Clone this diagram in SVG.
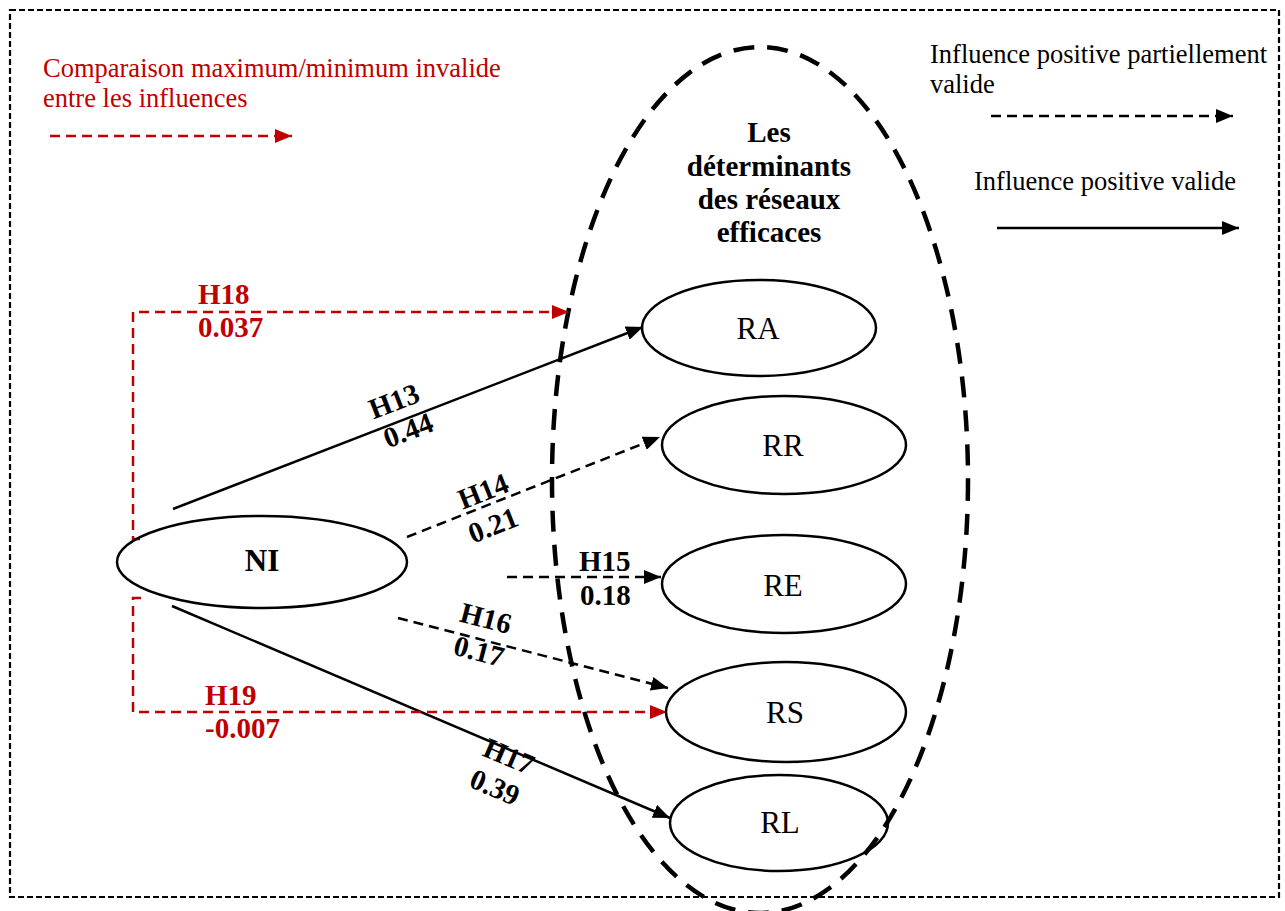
<svg xmlns="http://www.w3.org/2000/svg" width="1285" height="911" viewBox="0 0 1285 911">
<style>
text{font-family:"Liberation Serif","Times New Roman",serif;}
.lbl{font-size:29px;font-weight:bold;fill:#000;}
.red{fill:#C00000;}
.node{fill:none;stroke:#000;stroke-width:2.5;}
.ntxt{font-size:31px;text-anchor:middle;}
.leg{font-size:26.5px;}
.solid{stroke:#000;stroke-width:2.5;fill:none;}
.dash{stroke:#000;stroke-width:2.5;fill:none;stroke-dasharray:10 6;}
.rdash{stroke:#C00000;stroke-width:2.5;fill:none;stroke-dasharray:10 6;}
</style>
<defs>
<marker id="ah" markerUnits="userSpaceOnUse" markerWidth="18" markerHeight="14" refX="17" refY="7" orient="auto"><path d="M0,0 L17,7 L0,14 z" fill="#000"/></marker>
<marker id="ahr" markerUnits="userSpaceOnUse" markerWidth="18" markerHeight="14" refX="17" refY="7" orient="auto"><path d="M0,0 L17,7 L0,14 z" fill="#C00000"/></marker>
</defs>
<rect width="1285" height="911" fill="#fff"/>
<rect id="frame" x="10" y="10" width="1269" height="887" fill="none" stroke="#000" stroke-width="2.2" stroke-dasharray="6 3"/>
<g id="group-ellipse">
<ellipse cx="760" cy="480" rx="208" ry="433" fill="none" stroke="#000" stroke-width="4.5" stroke-dasharray="21 13"/>
<text class="lbl" text-anchor="middle"><tspan x="769" y="142">Les</tspan><tspan x="769" y="176">déterminants</tspan><tspan x="769" y="209">des réseaux</tspan><tspan x="769" y="242">efficaces</tspan></text>
</g>
<g id="legend">
<text class="leg red" x="43" y="77">Comparaison maximum/minimum invalide</text>
<text class="leg red" x="43" y="107">entre les influences</text>
<line class="rdash" x1="50" y1="136" x2="292" y2="136" marker-end="url(#ahr)"/>
<text class="leg" x="930" y="63">Influence positive partiellement</text>
<text class="leg" x="930" y="93">valide</text>
<line class="dash" x1="991" y1="116" x2="1233" y2="116" marker-end="url(#ah)"/>
<text class="leg" x="974" y="190">Influence positive valide</text>
<line class="solid" x1="997" y1="228" x2="1239" y2="228" marker-end="url(#ah)"/>
</g>
<g id="connectors">
<line class="solid" x1="173" y1="509" x2="643" y2="327" marker-end="url(#ah)"/>
<line class="dash" x1="407" y1="537" x2="660" y2="437" marker-end="url(#ah)"/>
<line class="dash" x1="507" y1="577" x2="661" y2="577" marker-end="url(#ah)"/>
<line class="dash" x1="398" y1="618" x2="668" y2="688" marker-end="url(#ah)"/>
<line class="solid" x1="172" y1="606" x2="670" y2="818" marker-end="url(#ah)"/>
<path class="rdash" d="M140,539 H133 V312 H569" marker-end="url(#ahr)"/>
<path class="rdash" d="M141,598 H133 V712 H667" marker-end="url(#ahr)"/>
<text class="lbl red" x="198" y="304">H18</text>
<text class="lbl red" x="198" y="337">0.037</text>
<text class="lbl red" x="205" y="705">H19</text>
<text class="lbl red" x="205" y="738">-0.007</text>
<text class="lbl" text-anchor="middle" x="394" y="411" transform="rotate(-21 394 401)">H13</text>
<text class="lbl" text-anchor="middle" x="408" y="440" transform="rotate(-21 408 430)">0.44</text>
<text class="lbl" text-anchor="middle" x="483" y="501" transform="rotate(-21.6 483 491)">H14</text>
<text class="lbl" text-anchor="middle" x="493" y="535" transform="rotate(-21.6 493 525)">0.21</text>
<text class="lbl" x="579" y="571">H15</text>
<text class="lbl" x="580" y="605">0.18</text>
<text class="lbl" text-anchor="middle" x="486" y="628" transform="rotate(14.5 486 618)">H16</text>
<text class="lbl" text-anchor="middle" x="479" y="661" transform="rotate(14.5 479 651)">0.17</text>
<text class="lbl" text-anchor="middle" x="509" y="766" transform="rotate(23 509 756)">H17</text>
<text class="lbl" text-anchor="middle" x="495" y="797" transform="rotate(23 495 787)">0.39</text>
</g>
<g id="node-NI">
<ellipse class="node" cx="262" cy="562" rx="145" ry="46"/>
<text class="ntxt" x="262" y="571" font-weight="bold">NI</text>
</g>
<g id="node-RA">
<ellipse class="node" cx="759" cy="328" rx="117" ry="48"/>
<text class="ntxt" x="758" y="339">RA</text>
</g>
<g id="node-RR">
<ellipse class="node" cx="784" cy="445" rx="122" ry="49"/>
<text class="ntxt" x="783" y="456">RR</text>
</g>
<g id="node-RE">
<ellipse class="node" cx="784" cy="584" rx="122" ry="49"/>
<text class="ntxt" x="783" y="596">RE</text>
</g>
<g id="node-RS">
<ellipse class="node" cx="786" cy="712" rx="120" ry="50"/>
<text class="ntxt" x="785" y="723">RS</text>
</g>
<g id="node-RL">
<ellipse class="node" cx="779" cy="823" rx="109" ry="48"/>
<text class="ntxt" x="780" y="833">RL</text>
</g>
</svg>
